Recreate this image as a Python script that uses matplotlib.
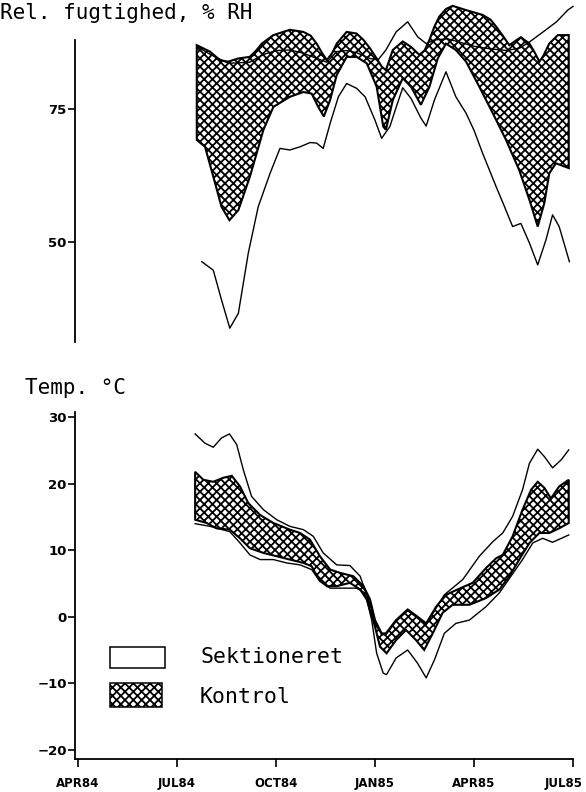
import numpy as np
import matplotlib
matplotlib.use('Agg')
import matplotlib.pyplot as plt
from matplotlib.patches import Rectangle
from matplotlib.transforms import ScaledTranslation

# months counted from APR84 (0) to JUL85 (15)
month_ticks = [0, 3, 6, 9, 12, 15]
month_labels = ['APR84', 'JUL84', 'OCT84', 'JAN85', 'APR85', 'JUL85']

# --- relative humidity, % RH ---
rh_kon_hi_m = [3.6, 4.0, 4.3, 4.55, 4.85, 5.2, 5.4, 5.57, 5.92, 6.42, 6.83, 7.05, 7.23, 7.4, 7.54,
               7.7, 7.84, 8.14, 8.44, 8.65, 8.85, 9.05, 9.2, 9.33, 9.45, 9.54, 9.84, 10.09, 10.34,
               10.5, 10.65, 10.8, 10.95, 11.15, 11.35, 11.76, 12.26, 12.5, 12.67, 12.87, 13.07,
               13.25, 13.42, 13.68, 13.85, 13.98, 14.1, 14.28, 14.54, 14.87]
rh_kon_hi = [87.0, 85.8, 84.2, 83.9, 84.5, 84.8, 86.0, 87.3, 88.9, 89.9, 89.5, 88.8, 87.3, 85.5, 84.2,
             85.5, 87.3, 89.5, 89.2, 88.0, 86.4, 84.5, 83.0, 82.3, 84.5, 86.1, 87.7, 86.7, 85.2,
             86.0, 88.0, 90.5, 92.4, 93.8, 94.4, 93.6, 92.7, 91.8, 90.5, 88.8, 87.0,
             87.8, 88.5, 87.3, 85.5, 83.9, 85.0, 87.3, 88.9, 88.9]

rh_kon_lo_m = [3.6, 3.85, 4.1, 4.35, 4.59, 4.86, 5.21, 5.62, 5.92, 6.42, 6.83, 7.08, 7.28, 7.45,
               7.64, 7.84, 8.14, 8.44, 8.75, 9.05, 9.25, 9.33, 9.54, 9.84, 10.09, 10.39, 10.65,
               10.9, 11.15, 11.45, 11.76, 12.16, 12.57, 12.97, 13.37, 13.68, 13.93, 14.13, 14.28,
               14.48, 14.87]
rh_kon_lo = [69.2, 67.9, 62.3, 56.6, 54.1, 56.0, 62.3, 71.1, 75.4, 77.3, 78.2, 77.9, 75.4, 73.6,
             76.7, 81.4, 84.8, 84.8, 83.6, 79.2, 71.7, 71.1, 76.7, 80.8, 79.2, 75.8, 79.2,
             84.5, 87.3, 86.1, 83.9, 79.2, 74.2, 69.2, 63.5, 57.9, 52.9, 57.3, 62.9,
             64.8, 63.9]

rh_sek_hi_m = [3.6, 4.0, 4.55, 5.2, 5.6, 6.0, 6.42, 6.83, 7.2, 7.54, 7.84, 8.14, 8.44, 8.85, 9.1,
               9.33, 9.64, 9.99, 10.29, 10.55, 10.8, 11.2, 11.6, 12.0, 12.5, 13.0, 13.4, 13.7,
               14.18, 14.5, 14.84, 15.0]
rh_sek_hi = [86.8, 85.3, 83.6, 83.8, 85.2, 86.0, 86.1, 85.5, 84.6, 83.8, 85.8, 86.0, 85.6, 84.5, 84.3,
             86.1, 89.5, 91.4, 88.6, 87.3, 88.0, 88.2, 87.5, 86.8, 86.3, 86.0, 86.5, 87.7,
             89.9, 91.4, 93.6, 94.3]

rh_sek_lo_m = [3.75, 4.1, 4.35, 4.6, 4.86, 5.16, 5.46, 5.82, 6.12, 6.42, 6.73, 7.03, 7.23, 7.43,
               7.64, 7.89, 8.14, 8.44, 8.7, 9.0, 9.2, 9.45, 9.65, 9.84, 10.09, 10.39, 10.55, 10.8,
               11.15, 11.45, 11.76, 12.0, 12.26, 12.67, 12.9, 13.17, 13.42, 13.68, 13.93, 14.18,
               14.38, 14.58, 14.89]
rh_sek_lo = [46.3, 44.7, 39.1, 33.8, 36.6, 47.9, 56.6, 62.9, 67.6, 67.3, 67.9, 68.7, 68.6, 67.6,
             72.3, 77.3, 79.8, 78.9, 77.3, 72.9, 69.5, 71.7, 75.5, 79.0, 77.0, 73.3, 71.8, 76.7,
             82.0, 77.3, 74.2, 71.0, 66.7, 60.4, 57.0, 52.9, 53.5, 49.8, 45.7, 50.4,
             55.1, 52.9, 46.3]

# --- temperature, deg C ---
t_sek_hi_m = [3.55, 3.85, 4.1, 4.35, 4.59, 4.81, 5.01, 5.26, 5.62, 6.02, 6.42, 6.83, 7.13, 7.43,
              7.84, 8.24, 8.55, 8.8, 9.0, 9.2, 9.33, 9.64, 9.99, 10.29, 10.55, 10.85, 11.1, 11.66,
              12.16, 12.57, 12.87, 13.17, 13.47, 13.68, 13.93, 14.13, 14.38, 14.64, 14.87]
t_sek_hi = [27.5, 26.1, 25.5, 26.9, 27.5, 25.9, 22.1, 18.1, 16.1, 14.6, 13.6, 13.1, 12.1, 9.6,
            7.8, 7.7, 6.1, 2.6, -0.8, -2.7, -2.7, -0.7, 0.9, -0.2, -1.2, 1.3, 3.3, 5.6,
            9.1, 11.3, 12.6, 15.1, 19.1, 23.1, 25.2, 24.1, 22.4, 23.6, 25.1]

t_kon_hi_m = [3.55, 3.8, 4.1, 4.4, 4.66, 4.91, 5.16, 5.52, 5.92, 6.42, 6.73, 7.03, 7.33, 7.64,
              7.94, 8.34, 8.65, 8.85, 9.0, 9.2, 9.33, 9.64, 9.99, 10.29, 10.55, 10.85, 11.15,
              11.5, 11.96, 12.36, 12.67, 12.87, 13.17, 13.47, 13.73, 13.93, 14.13, 14.33, 14.58,
              14.87]
t_kon_hi = [21.8, 20.6, 20.3, 20.9, 21.2, 19.6, 17.1, 15.3, 14.1, 13.1, 12.6, 11.6, 9.1, 7.1,
            6.6, 6.1, 4.6, 2.6, -0.5, -2.5, -2.5, -0.5, 1.1, 0.0, -1.0, 1.5, 3.3,
            4.1, 5.1, 7.3, 8.8, 9.3, 12.1, 16.1, 19.1, 20.3, 19.4, 17.8, 19.6,
            20.6]

t_kon_lo_m = [3.55, 3.9, 4.2, 4.6, 4.91, 5.21, 5.62, 6.02, 6.42, 6.83, 7.08, 7.28, 7.54, 7.84,
              8.24, 8.55, 8.75, 9.0, 9.15, 9.35, 9.64, 9.94, 10.24, 10.49, 10.75, 11.05, 11.35,
              11.86, 12.36, 12.77, 13.07, 13.37, 13.68, 13.98, 14.28, 14.58, 14.87]
t_kon_lo = [14.6, 14.1, 13.3, 13.1, 11.8, 10.3, 9.6, 9.1, 8.6, 8.1, 7.6, 5.8, 4.6, 4.6,
            5.1, 4.1, 2.6, -1.5, -4.5, -5.5, -3.5, -2.0, -3.5, -5.0, -2.5, 0.6, 1.8,
            1.8, 2.8, 4.1, 6.1, 8.6, 11.1, 12.6, 12.6, 13.3, 14.1]

t_sek_lo_m = [3.55, 4.0, 4.6, 4.91, 5.21, 5.52, 5.92, 6.32, 6.73, 7.08, 7.33, 7.64, 8.04, 8.44,
              8.7, 8.9, 9.05, 9.25, 9.35, 9.64, 9.99, 10.29, 10.55, 10.8, 11.1, 11.45, 11.86,
              12.36, 12.77, 13.12, 13.47, 13.78, 14.08, 14.38, 14.87]
t_sek_lo = [14.0, 13.6, 12.8, 11.1, 9.3, 8.6, 8.6, 8.1, 7.8, 7.1, 5.3, 4.3, 4.3, 4.3,
            3.6, -0.5, -5.5, -8.5, -8.7, -6.2, -5.0, -7.0, -9.2, -6.5, -2.5, -1.0, -0.5,
            1.5, 3.6, 6.1, 8.6, 11.1, 11.8, 11.2, 12.3]

HATCH = 'xxxx'
plt.rcParams['hatch.linewidth'] = 1.3
mono = 'DejaVu Sans Mono'

fig = plt.figure(figsize=(5.86, 7.92), dpi=100)
ax1 = fig.add_axes([75 / 586, 1 - 342 / 792, 501 / 586, 342 / 792])
ax2 = fig.add_axes([75 / 586, 1 - 759 / 792, 501 / 586, 347 / 792])


def band(ax, xu, yu, xl, yl):
    xs = np.r_[xu, xl[::-1]]
    ys = np.r_[yu, yl[::-1]]
    ax.fill(xs, ys, facecolor='white', edgecolor='black', hatch=HATCH, linewidth=1.5)


# top panel
band(ax1, rh_kon_hi_m, rh_kon_hi, rh_kon_lo_m, rh_kon_lo)
ax1.plot(rh_sek_hi_m, rh_sek_hi, color='black', lw=1.0)
ax1.plot(rh_sek_lo_m, rh_sek_lo, color='black', lw=1.0)
ax1.set_xlim(-0.09, 15.09)
ax1.set_ylim(31.2, 95.5)
for s in ['top', 'right', 'bottom']:
    ax1.spines[s].set_visible(False)
ax1.spines['left'].set_bounds(31.2, 88.0)
ax1.spines['left'].set_linewidth(1.3)
ax1.set_xticks([])
ax1.set_yticks([50, 75])
ax1.tick_params(axis='y', direction='out', length=5, width=1.2, pad=1, labelsize=9.5)
for lab in ax1.get_yticklabels():
    lab.set_fontweight('bold')

# bottom panel
band(ax2, t_kon_hi_m, t_kon_hi, t_kon_lo_m, t_kon_lo)
ax2.plot(t_sek_hi_m, t_sek_hi, color='black', lw=1.0)
ax2.plot(t_sek_lo_m, t_sek_lo, color='black', lw=1.0)
ax2.set_xlim(-0.09, 15.09)
ax2.set_ylim(-21.4, 30.8)
for s in ['top', 'right']:
    ax2.spines[s].set_visible(False)
ax2.spines['bottom'].set_bounds(-0.09, 15.0)
for s in ['left', 'bottom']:
    ax2.spines[s].set_linewidth(1.3)
ax2.set_yticks([-20, -10, 0, 10, 20, 30])
ax2.set_xticks(month_ticks)
ax2.set_xticklabels(month_labels)
ax2.tick_params(axis='y', direction='out', length=5, width=1.2, pad=1, labelsize=9.5)
ax2.tick_params(axis='x', direction='out', length=6, width=1.2, pad=7, labelsize=8.5)
for lab in ax2.get_yticklabels() + ax2.get_xticklabels():
    lab.set_fontweight('bold')
# last month label sits a little left of its tick, as in the original
last = ax2.get_xticklabels()[-1]
last.set_transform(last.get_transform() + ScaledTranslation(-0.09, 0, fig.dpi_scale_trans))

# legend boxes
fig.add_artist(Rectangle((110 / 586, 1 - 668 / 792), 55 / 586, 21 / 792,
                         transform=fig.transFigure, facecolor='white', edgecolor='black', lw=1.1))
fig.add_artist(Rectangle((110 / 586, 1 - 707 / 792), 52 / 586, 24 / 792,
                         transform=fig.transFigure, facecolor='white', edgecolor='black',
                         hatch=HATCH, lw=1.1))
fig.text(200 / 586, 1 - 657 / 792, 'Sektioneret', family=mono, fontsize=15.5, va='center')
fig.text(200 / 586, 1 - 697 / 792, 'Kontrol', family=mono, fontsize=15.5, va='center')

# panel titles
fig.text(0.0, 1 - 13 / 792, 'Rel. fugtighed, % RH', family=mono, fontsize=15, va='center')
fig.text(25 / 586, 1 - 388 / 792, 'Temp. \u00b0C', family=mono, fontsize=15, va='center')

fig.savefig('out.png', dpi=100)
